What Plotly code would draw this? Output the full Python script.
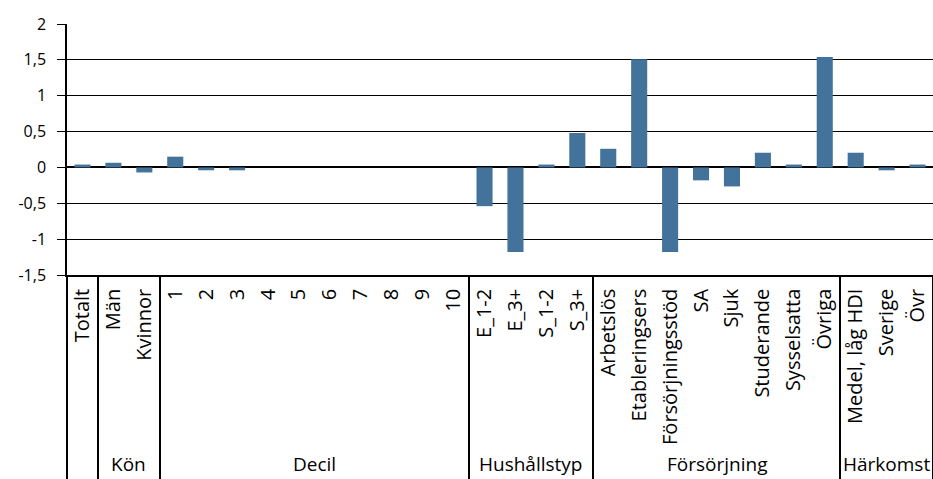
import plotly.graph_objects as go

categories = ["Totalt", "Män", "Kvinnor", "1", "2", "3", "4", "5", "6", "7", "8", "9", "10",
              "E_1-2", "E_3+", "S_1-2", "S_3+",
              "Arbetslös", "Etableringsers", "Försörjningsstöd", "SA", "Sjuk", "Studerande",
              "Sysselsatta", "Övriga",
              "Medel, låg HDI", "Sverige", "Övr"]
values = [0.04, 0.065, -0.07, 0.15, -0.04, -0.04, 0, 0, 0, 0, 0, 0, 0,
          -0.54, -1.18, 0.04, 0.48,
          0.26, 1.51, -1.18, -0.18, -0.265, 0.205, 0.04, 1.54,
          0.205, -0.04, 0.04]
groups = ["", "Kön", "Decil", "Hushållstyp", "Försörjning", "Härkomst"]
group_sizes = [1, 2, 10, 4, 8, 3]
y_ticks = [-1.5, -1, -0.5, 0, 0.5, 1, 1.5, 2]
y_tick_text = ["-1,5", "-1", "-0,5", "0", "0,5", "1", "1,5", "2"]

FONT = "Open Sans"
idx = list(range(len(categories)))

fig = go.Figure()
fig.add_trace(go.Bar(x=idx, y=values, marker=dict(color="#43739a", line_width=0),
                     width=0.52, showlegend=False))
# invisible trace on second x axis for group separators
fig.add_trace(go.Scatter(x=[0], y=[None], xaxis="x2", yaxis="y", showlegend=False,
                         hoverinfo="skip"))

# group boundaries and centers
bounds = [-0.5]
centers = []
start = -0.5
for s in group_sizes:
    centers.append(start + s / 2)
    start += s
    bounds.append(start)

annotations = []
for g, c in zip(groups, centers):
    if g:
        annotations.append(dict(text=g, x=c, xref="x", y=-0.752, yref="paper",
                                showarrow=False, xanchor="center", yanchor="middle",
                                font=dict(family=FONT, size=19, color="black")))

fig.update_layout(
    width=933, height=479,
    margin=dict(l=67, r=0, t=24, b=204, autoexpand=False),
    plot_bgcolor="white", paper_bgcolor="white",
    font=dict(family=FONT, size=17, color="black"),
    annotations=annotations,
    xaxis=dict(range=[-0.5, 27.5], tickmode="array", tickvals=idx, ticktext=categories,
               tickangle=-90, ticks="", showgrid=False, showline=True, linecolor="black",
               linewidth=1.5, zeroline=False, ticklabelstandoff=4, automargin=False,
               tickfont=dict(family=FONT, size=20)),
    xaxis2=dict(range=[-0.5, 27.5], overlaying="x", anchor="y", side="bottom",
                tickmode="array", tickvals=bounds, ticks="outside", ticklen=204,
                tickwidth=1.5, tickcolor="black", showticklabels=False, showgrid=False,
                zeroline=False, showline=False, automargin=False),
    yaxis=dict(range=[-1.5, 2], tickmode="array", tickvals=y_ticks, ticktext=y_tick_text,
               ticks="outside", ticklen=8, tickcolor="black", tickwidth=1,
               showgrid=True, gridcolor="black", gridwidth=1,
               zeroline=True, zerolinecolor="black", zerolinewidth=2,
               showline=True, linecolor="black", linewidth=1.5, ticklabelstandoff=8,
               automargin=False, tickfont=dict(family=FONT, size=16)),
    bargap=0.48,
)

fig.write_html("out.html", config={"displayModeBar": False},
               post_script="document.body.style.margin='0';document.body.style.padding='0';")
